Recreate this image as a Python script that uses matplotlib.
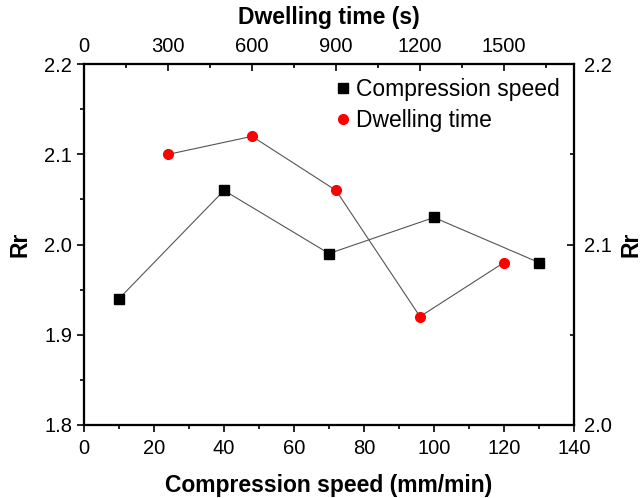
import numpy as np
import matplotlib.pyplot as plt
from matplotlib.ticker import MultipleLocator
from matplotlib.lines import Line2D

plt.rcParams['font.family'] = ['Liberation Sans', 'DejaVu Sans']

speed = [10, 40, 70, 100, 130]
rr_speed = [1.94, 2.06, 1.99, 2.03, 1.98]
dwell = [300, 600, 900, 1200, 1500]
rr_dwell = [2.10, 2.12, 2.06, 1.92, 1.98]

fig = plt.figure(figsize=(6.42, 4.98), dpi=100)
ax = fig.add_axes([0.131, 0.147, 0.763, 0.724])

ax.plot(speed, rr_speed, '-', color='#555555', lw=0.8, zorder=2)
ax.plot(speed, rr_speed, 's', color='black', ms=7, zorder=3)
ax.set_xlim(0, 140)
ax.set_ylim(1.8, 2.2)
ax.xaxis.set_major_locator(MultipleLocator(20))
ax.xaxis.set_minor_locator(MultipleLocator(10))
ax.yaxis.set_major_locator(MultipleLocator(0.1))
ax.yaxis.set_minor_locator(MultipleLocator(0.05))
ax.yaxis.set_major_formatter(plt.FormatStrFormatter('%.1f'))
ax.tick_params(which='both', direction='out', labelsize=14.5, width=1.2)
ax.tick_params(which='major', length=5)
ax.tick_params(which='minor', length=3)
ax.tick_params(axis='x', pad=5)
ax.set_xlabel('Compression speed (mm/min)', fontsize=16.5, fontweight='bold', labelpad=12)
ax.set_ylabel('Rr', fontsize=16.5, fontweight='bold', labelpad=9)

ax_top = ax.twiny()
ax_top.plot(dwell, rr_dwell, '-', color='#555555', lw=0.8, zorder=2)
ax_top.plot(dwell, rr_dwell, 'o', color='red', ms=7, zorder=3)
ax_top.set_xlim(0, 1750)
ax_top.set_ylim(1.8, 2.2)
ax_top.xaxis.set_major_locator(MultipleLocator(300))
ax_top.xaxis.set_minor_locator(MultipleLocator(150))
ax_top.tick_params(which='both', direction='in', labelsize=14.5, width=1.2, pad=6)
ax_top.tick_params(which='major', length=5)
ax_top.tick_params(which='minor', length=3)
ax_top.set_xticks([0, 300, 600, 900, 1200, 1500])
ax_top.set_xlabel('Dwelling time (s)', fontsize=16.5, fontweight='bold', labelpad=9)

ax_r = ax.twinx()
ax_r.set_ylim(2.0, 2.2)
ax_r.yaxis.set_major_locator(MultipleLocator(0.1))
ax_r.yaxis.set_minor_locator(MultipleLocator(0.05))
ax_r.yaxis.set_major_formatter(plt.FormatStrFormatter('%.1f'))
ax_r.tick_params(which='both', direction='in', labelsize=14.5, width=1.2, pad=7)
ax_r.tick_params(which='major', length=5)
ax_r.tick_params(which='minor', length=3)
ax_r.set_ylabel('Rr', fontsize=16.5, fontweight='bold', labelpad=6)

for a in (ax, ax_top, ax_r):
    for s in a.spines.values():
        s.set_linewidth(1.5)

handles = [Line2D([], [], marker='s', color='black', ls='none', ms=7),
           Line2D([], [], marker='o', color='red', ls='none', ms=7)]
ax_r.legend(handles, ['Compression speed', 'Dwelling time'], loc='upper right',
            frameon=False, fontsize=16.5, handletextpad=0.2, borderaxespad=0.1,
            labelspacing=0.35, handlelength=0.8, borderpad=0.5)

fig.savefig('out.png', dpi=100)
